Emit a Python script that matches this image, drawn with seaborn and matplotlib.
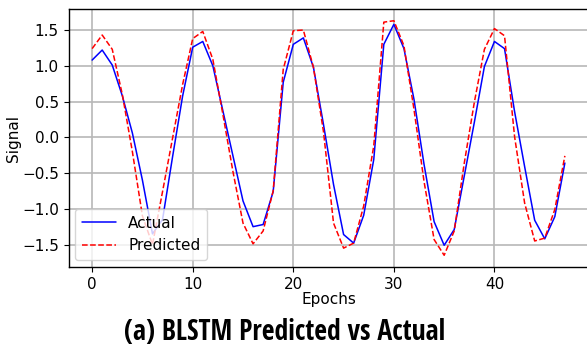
import pandas as pd
import numpy as np
import matplotlib
matplotlib.use("Agg")
import matplotlib.pyplot as plt
import seaborn as sns

epochs = list(range(48))
actual = [1.08, 1.22, 1.01, 0.58, 0.06, -0.60, -1.35, -1.15, -0.27, 0.58,
          1.26, 1.34, 1.00, 0.37, -0.26, -0.89, -1.25, -1.22, -0.76, 0.77,
          1.30, 1.39, 0.98, 0.18, -0.66, -1.36, -1.48, -1.09, -0.31, 1.30,
          1.58, 1.24, 0.53, -0.38, -1.18, -1.51, -1.29, -0.54, 0.21, 0.99,
          1.34, 1.24, 0.36, -0.41, -1.16, -1.42, -1.11, -0.36]
predicted = [1.24, 1.43, 1.23, 0.60, -0.20, -1.10, -1.50, -0.76, -0.01, 0.74,
             1.38, 1.48, 1.09, 0.32, -0.48, -1.20, -1.49, -1.31, -0.75, 0.95,
             1.49, 1.50, 0.98, 0.08, -1.20, -1.55, -1.48, -0.96, -0.12, 1.61,
             1.63, 1.28, 0.39, -0.62, -1.43, -1.65, -1.31, -0.36, 0.49, 1.23,
             1.52, 1.42, 0.01, -0.92, -1.45, -1.41, -1.01, -0.26]

df = pd.DataFrame({"Epochs": epochs, "Actual": actual, "Predicted": predicted})

sns.set_style("whitegrid", {"axes.edgecolor": "black", "grid.color": "#b0b0b0",
                            "xtick.bottom": True, "ytick.left": True,
                            "text.color": "black", "axes.labelcolor": "black",
                            "xtick.color": "black", "ytick.color": "black"})
plt.rcParams["font.family"] = ["DejaVu Sans"]

fig = plt.figure(figsize=(5.87, 3.45), dpi=100)
ax = fig.add_axes([68.5 / 587, 78 / 345, 520 / 587, 258 / 345])

sns.lineplot(data=df, x="Epochs", y="Actual", ax=ax, color="blue", linewidth=1.1, label="Actual")
sns.lineplot(data=df, x="Epochs", y="Predicted", ax=ax, color="red", linewidth=1.1,
             linestyle="--", label="Predicted")

ax.grid(True, color="#b8b8b8", linewidth=1.2)
ax.set_xlabel("Epochs", fontsize=11, labelpad=0)
ax.set_ylabel("Signal", fontsize=11, labelpad=1)
ax.tick_params(labelsize=11, length=3.5, color="black")
ax.set_xticks([0, 10, 20, 30, 40])
ax.set_yticks([-1.5, -1.0, -0.5, 0.0, 0.5, 1.0, 1.5])
for s in ax.spines.values():
    s.set_linewidth(1)
ax.legend(loc="lower left", fontsize=11, frameon=True, handlelength=2.2, borderpad=0.45,
          labelspacing=0.5, borderaxespad=0.45)

fig.text(285 / 587, 1 - 332 / 345, "(a) BLSTM Predicted vs Actual", ha="center", va="center",
         fontsize=20, fontweight="bold", fontstretch="condensed", color="black",
         family=["Open Sans Condensed", "Noto Sans Condensed", "Asap Condensed", "DejaVu Sans"])

fig.savefig("out.png", dpi=100)
